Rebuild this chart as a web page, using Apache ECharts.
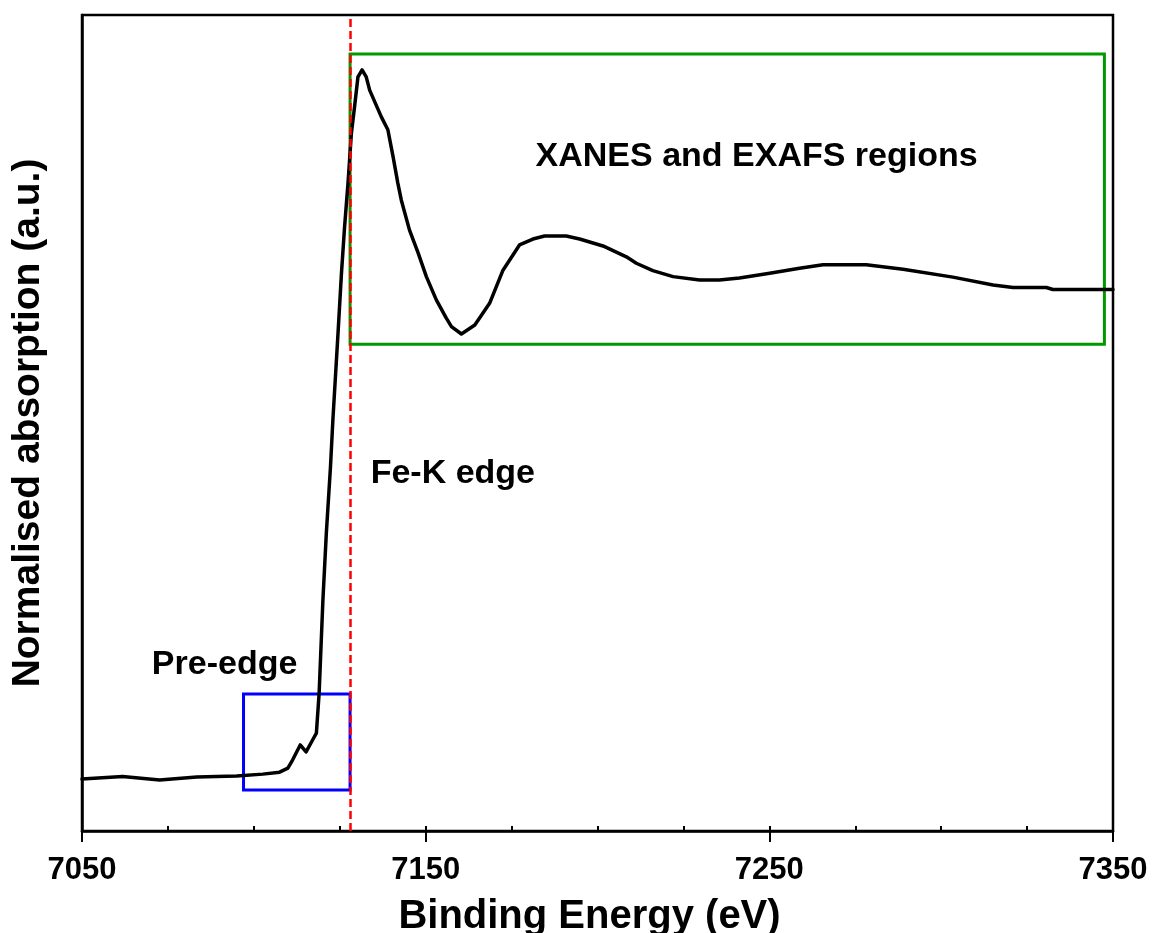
<!DOCTYPE html>
<html>
<head>
<meta charset="utf-8">
<script src="https://cdn.jsdelivr.net/npm/echarts@6/dist/echarts.min.js"></script>
<style>html,body{margin:0;padding:0;background:#fff}#c{width:1153px;height:933px}</style>
</head>
<body>
<div id="c"></div>
<script>
// Data
const energy = [7050.0, 7061.8, 7072.6, 7083.4, 7095.0, 7102.6, 7107.5, 7109.9, 7111.3, 7113.5, 7115.2, 7117.1, 7118.2, 7119.0, 7120.1, 7121.1, 7122.3, 7123.0, 7124.5, 7125.5, 7126.4, 7127.4, 7128.4, 7129.3, 7130.3, 7131.5, 7132.7, 7133.7, 7137.1, 7139.0, 7140.5, 7141.9, 7142.9, 7145.3, 7147.8, 7150.2, 7153.1, 7156.0, 7157.5, 7160.4, 7164.3, 7168.6, 7172.5, 7177.3, 7181.2, 7184.6, 7190.9, 7194.8, 7201.6, 7208.4, 7211.3, 7216.1, 7222.0, 7229.7, 7235.5, 7241.3, 7250.1, 7258.8, 7265.6, 7278.2, 7288.9, 7303.4, 7315.1, 7320.9, 7330.6, 7332.5, 7350.0];
const absorption = [0.005, 0.010, 0.003, 0.009, 0.011, 0.015, 0.019, 0.027, 0.044, 0.074, 0.060, 0.084, 0.098, 0.179, 0.367, 0.503, 0.636, 0.731, 0.907, 1.028, 1.121, 1.210, 1.312, 1.364, 1.425, 1.439, 1.425, 1.398, 1.344, 1.318, 1.264, 1.210, 1.176, 1.115, 1.069, 1.021, 0.974, 0.937, 0.920, 0.905, 0.923, 0.967, 1.034, 1.085, 1.097, 1.103, 1.103, 1.097, 1.083, 1.061, 1.048, 1.033, 1.021, 1.014, 1.014, 1.018, 1.028, 1.038, 1.045, 1.045, 1.036, 1.020, 1.004, 0.999, 0.999, 0.995, 0.995];
const xTicks = [7050, 7150, 7250, 7350];
const edgeEnergy = 7128;
const preEdgeBox = [[7097, -0.017], [7128, 0.177]];
const xanesBox = [[7128, 0.884], [7347.5, 1.471]];
const annotations = [
  { text: 'XANES and EXAFS regions', coord: [7246.3, 1.263] },
  { text: 'Fe-K edge', coord: [7157.9, 0.622] },
  { text: 'Pre-edge', coord: [7091.5, 0.236] }
];

const FONT = '"Liberation Sans", Arial, sans-serif';
const chart = echarts.init(document.getElementById('c'), null, { renderer: 'canvas' });
const lineData = energy.map((e, i) => [e, absorption[i]]);

chart.setOption({
  animation: false,
  backgroundColor: '#fff',
  grid: { left: 82, right: 40, top: 15, bottom: 102, containLabel: false, outerBoundsMode: 'none', show: true, borderColor: '#000', borderWidth: 2.5, backgroundColor: 'transparent' },
  xAxis: [
    {
      type: 'value', min: xTicks[0], max: xTicks[xTicks.length - 1], interval: 100, position: 'bottom',
      name: 'Binding Energy (eV)', nameLocation: 'middle', nameGap: 66,
      nameTextStyle: { fontFamily: FONT, fontWeight: 'bold', fontSize: 40, color: '#000', padding: [0, 16, 0, 0] },
      axisLine: { show: true, onZero: false, lineStyle: { color: '#000', width: 2.5 } },
      axisTick: { show: true, inside: false, length: 11, lineStyle: { color: '#000', width: 2 } },
      axisLabel: { show: true, margin: 24, fontFamily: FONT, fontWeight: 'bold', fontSize: 31, color: '#000', formatter: v => String(v) },
      splitLine: { show: false }
    },
    {
      type: 'value', min: xTicks[0], max: xTicks[xTicks.length - 1], interval: 25, position: 'bottom',
      axisLine: { show: false, onZero: false },
      axisTick: { show: true, inside: true, length: 5, lineStyle: { color: '#000', width: 2 } },
      axisLabel: { show: false },
      splitLine: { show: false }
    }
  ],
  yAxis: {
    type: 'value', min: -0.1, max: 1.55,
    name: 'Normalised absorption (a.u.)', nameLocation: 'middle', nameGap: 34,
    nameTextStyle: { fontFamily: FONT, fontWeight: 'bold', fontSize: 39, color: '#000' },
    axisLine: { show: true, onZero: false, lineStyle: { color: '#000', width: 2.5 } },
    axisTick: { show: false }, axisLabel: { show: false }, splitLine: { show: false }
  },
  series: [
    {
      type: 'line', data: [], z: 2, silent: true,
      markArea: {
        silent: true,
        data: [
          [{ coord: preEdgeBox[0], itemStyle: { color: 'rgba(0,0,0,0)', borderColor: '#0000ff', borderWidth: 3 } }, { coord: preEdgeBox[1] }],
          [{ coord: xanesBox[0], itemStyle: { color: 'rgba(0,0,0,0)', borderColor: '#009900', borderWidth: 3 } }, { coord: xanesBox[1] }]
        ]
      }
    },
    {
      type: 'line', data: lineData, z: 3, showSymbol: false, symbol: 'none', smooth: false,
      lineStyle: { color: '#000', width: 3.5, join: 'round', cap: 'round' },
      markPoint: {
        symbol: 'circle', symbolSize: 0, silent: true,
        label: { show: true, position: 'inside', fontFamily: FONT, fontWeight: 'bold', fontSize: 34, color: '#000', formatter: p => p.name },
        data: annotations.map(a => ({ name: a.text, coord: a.coord }))
      }
    },
    {
      type: 'line', data: [], z: 5, silent: true,
      markLine: {
        silent: true, symbol: ['none', 'none'], label: { show: false },
        lineStyle: { color: '#ff0000', width: 2.5, type: [8, 4] },
        data: [{ xAxis: edgeEnergy }]
      }
    }
  ]
});
</script>
</body>
</html>
